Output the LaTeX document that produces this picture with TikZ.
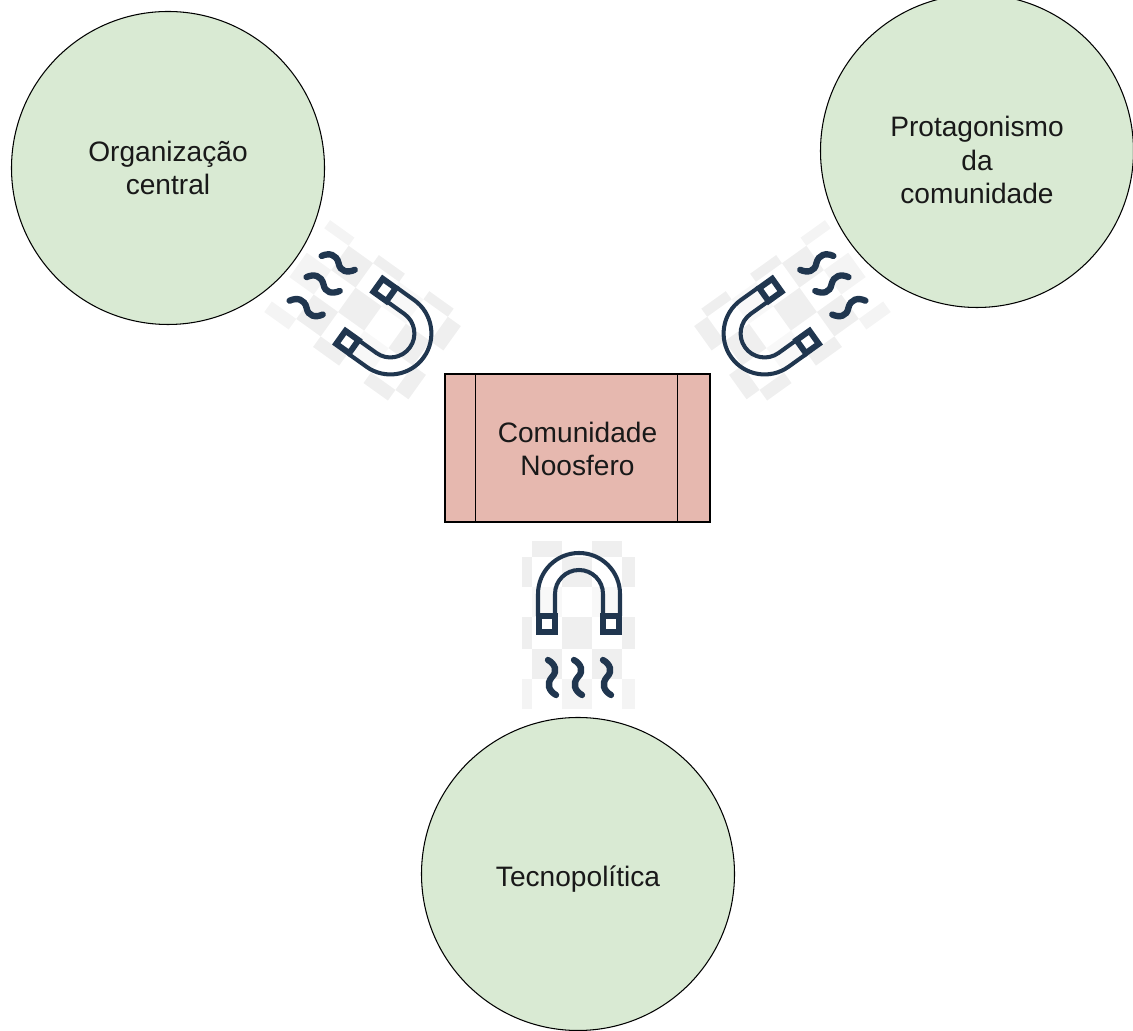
\documentclass[tikz,border=0pt]{standalone}
\usepackage{fontspec}
\setmainfont{Liberation Sans}
\definecolor{circlegreen}{HTML}{D9EAD3}
\definecolor{boxred}{HTML}{E6B8AF}
\definecolor{magnetblue}{HTML}{20364F}
\definecolor{checkgray}{HTML}{EFEFEF}
\definecolor{checkfaint}{HTML}{F8F8F8}
\tikzset{
    every node/.style = {font = \fontsize{16}{19.3}\selectfont, align = center, text = black!90},
    themecircle/.style = {draw, circle, fill = circlegreen, minimum size = 313*0.02cm, inner sep = 0pt, line width = 0.6pt},
    communitybox/.style = {draw, rectangle, fill = boxred, minimum width = 265*0.02cm, minimum height = 148*0.02cm, inner sep = 0pt, line width = 0.6pt},
    magnetline/.style = {draw = magnetblue, line width = 2.3pt},
    magnetfoot/.style = {draw = magnetblue, line width = 3.4pt},
    waveline/.style = {draw = magnetblue, line width = 3.6pt, line cap = round},
    magnet/.pic = {
        % checker behind the icon
        \foreach \xa/\xb in {-47/-17, 13/43} {
            \fill[checkgray] (\xa, 83) rectangle (\xb, 67);
            \fill[checkfaint] (\xa, 37) rectangle (\xb, 7);
            \fill[checkgray] (\xa, -25) rectangle (\xb, -55);
        }
        \foreach \xa/\xb in {-57/-47, -17/13, 43/56} {
            \fill[checkgray] (\xa, 67) rectangle (\xb, 37);
            \fill[checkgray] (\xa, 7) rectangle (\xb, -25);
            \fill[checkgray!70!white] (\xa, -55) rectangle (\xb, -85);
        }
        % horseshoe
        \draw[magnetline] (-41, 8) -- (-41, 30) arc (180:0:41) -- (41, 8);
        \draw[magnetline] (-24, 8) -- (-24, 30) arc (180:0:24) -- (24, 8);
        \draw[magnetfoot] (-40, -8) rectangle (-24, 8);
        \draw[magnetfoot] (24, -8) rectangle (40, 8);
        % waves
        \foreach \x in {-27, -1, 28} {
            \draw[waveline, xshift = \x*0.02cm] (-4, -36) .. controls (3, -40) and (6, -47) .. (0, -53)
                .. controls (-6, -60) and (-3, -67) .. (4, -71);
        }
    }
}
\begin{document}
\begin{tikzpicture}[x = 0.02cm, y = 0.02cm]
    \useasboundingbox (0, 0) rectangle (1133, 1031);

    \pic[rotate = -125.6] at (366, 715) {magnet};
    \pic[rotate = 125.6, xscale = -1] at (789, 715) {magnet};
    \pic at (579, 407) {magnet};

    \node[themecircle] (organizacao) at (168, 863) {};
    \node[themecircle] (protagonismo) at (977, 880) {};
    \node[themecircle] (tecnopolitica) at (578, 157) {};
    \node (organizacaotext) at (organizacao.center) {Organização\\central};
    \node (protagonismotext) at ([yshift = -9*0.02cm]protagonismo.center) {Protagonismo\\da\\comunidade};
    \node (tecnopoliticatext) at ([yshift = -5*0.02cm]tecnopolitica.center) {Tecnopolítica};

    \node[communitybox] (noosfero) at (577.5, 583) {};
    \node (noosferotext) at ([yshift = -1*0.02cm]noosfero.center) {Comunidade\\Noosfero};
    \draw[line width = 0.6pt] ([xshift = 31*0.02cm]noosfero.north west) -- ([xshift = 31*0.02cm]noosfero.south west);
    \draw[line width = 0.6pt] ([xshift = -33*0.02cm]noosfero.north east) -- ([xshift = -33*0.02cm]noosfero.south east);
\end{tikzpicture}
\end{document}
